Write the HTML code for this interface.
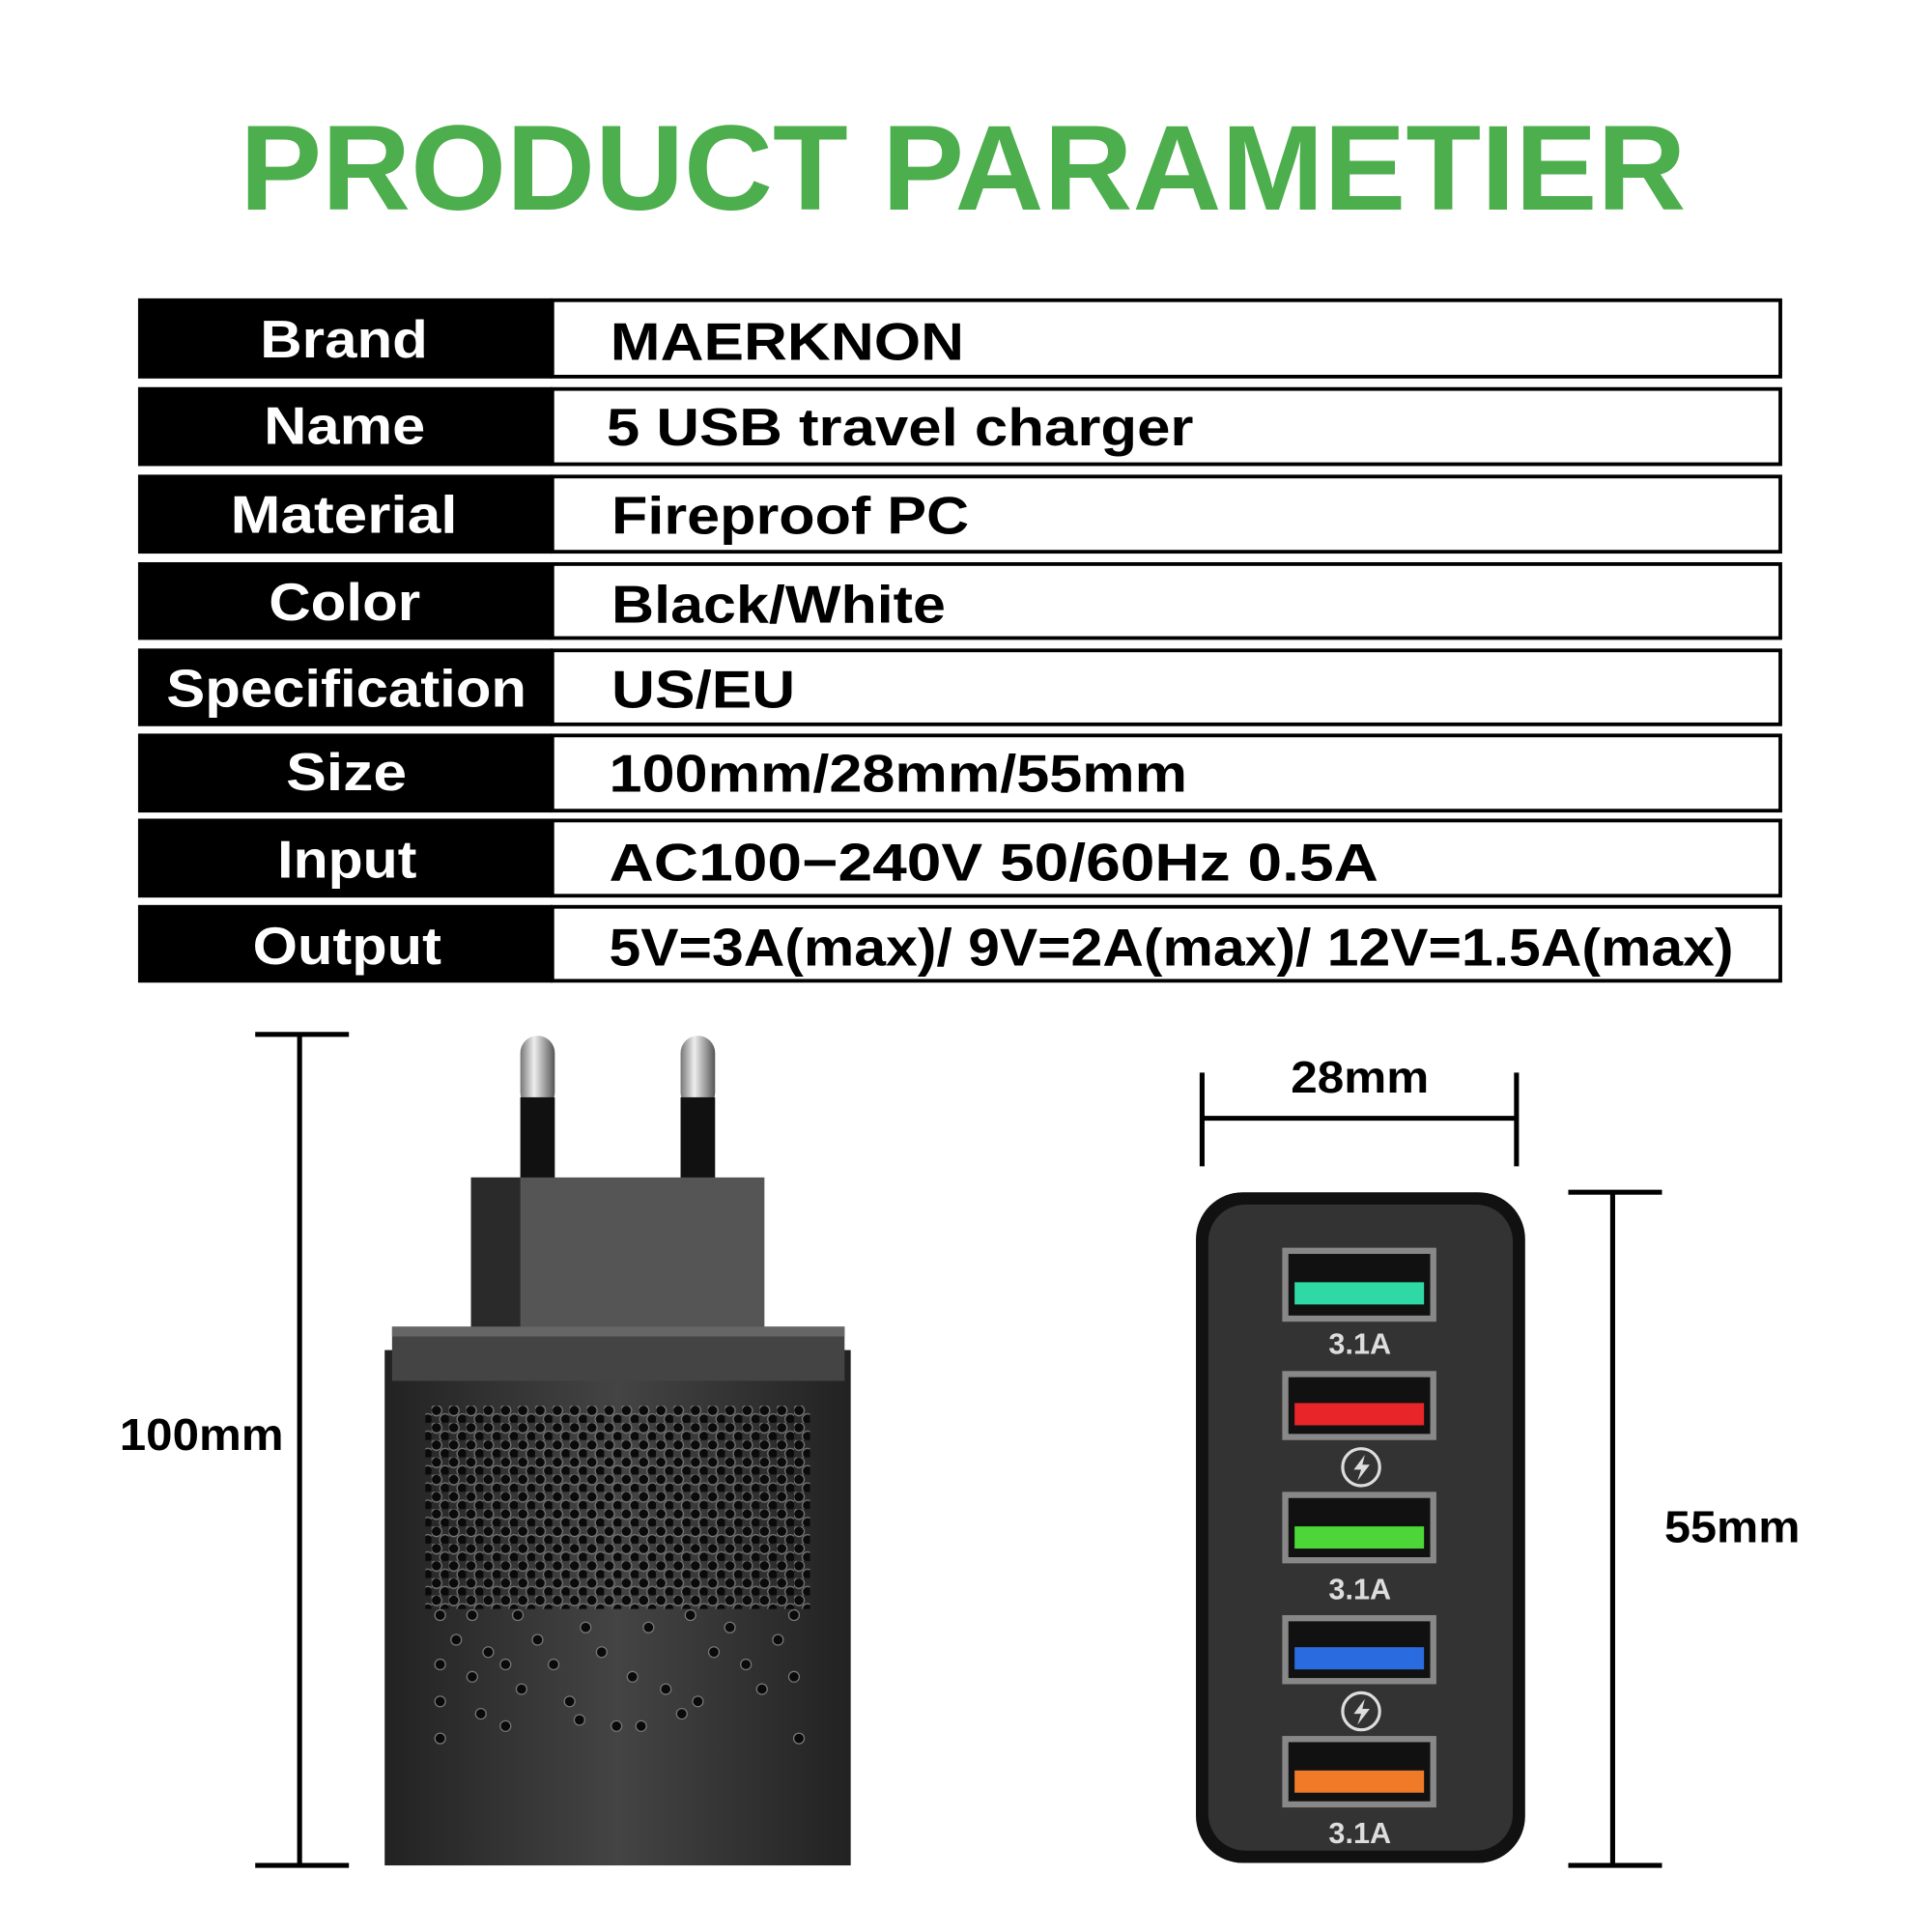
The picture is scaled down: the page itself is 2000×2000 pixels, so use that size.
<!DOCTYPE html>
<html><head><meta charset="utf-8"><style>
html,body{margin:0;padding:0;background:#fff;}
svg{display:block;}
text{font-family:"Liberation Sans",Arial,sans-serif;font-weight:bold;}
</style></head><body>
<svg width="2000" height="2000" viewBox="0 0 1567 1567" xmlns="http://www.w3.org/2000/svg">
<defs>
<pattern id="dots" x="350" y="1140" width="14" height="14" patternUnits="userSpaceOnUse">
<circle cx="4" cy="4" r="4.3" fill="#0a0a0a" stroke="#777" stroke-width="1"/>
<circle cx="11" cy="11" r="4.3" fill="#0a0a0a" stroke="#777" stroke-width="1"/>
</pattern>
<linearGradient id="prong" x1="0" x2="1"><stop offset="0" stop-color="#777"/><stop offset="0.4" stop-color="#eee"/><stop offset="1" stop-color="#555"/></linearGradient>
<linearGradient id="body" x1="0" x2="1"><stop offset="0" stop-color="#222"/><stop offset="0.5" stop-color="#444"/><stop offset="1" stop-color="#222"/></linearGradient>
</defs>
<rect width="1567" height="1567" fill="#fff"/>
<text x="781" y="170" font-size="98" fill="#4cae4c" text-anchor="middle" textLength="1173" lengthAdjust="spacingAndGlyphs">PRODUCT PARAMETIER</text>

<g font-size="43" lengthAdjust="spacingAndGlyphs">
<rect x="112" y="242" width="336" height="65" fill="#000"/><rect x="448" y="243.5" width="996" height="62" fill="#fff" stroke="#000" stroke-width="3"/>
<text x="211" y="290" fill="#fff" textLength="136" lengthAdjust="spacingAndGlyphs">Brand</text><text x="495" y="292" fill="#000" textLength="287" lengthAdjust="spacingAndGlyphs">MAERKNON</text>

<rect x="112" y="314" width="336" height="64" fill="#000"/><rect x="448" y="315.5" width="996" height="61" fill="#fff" stroke="#000" stroke-width="3"/>
<text x="214" y="360" fill="#fff" textLength="131" lengthAdjust="spacingAndGlyphs">Name</text><text x="492" y="361" fill="#000" textLength="476" lengthAdjust="spacingAndGlyphs">5 USB travel charger</text>

<rect x="112" y="385" width="336" height="64" fill="#000"/><rect x="448" y="386.5" width="996" height="61" fill="#fff" stroke="#000" stroke-width="3"/>
<text x="187" y="432" fill="#fff" textLength="184" lengthAdjust="spacingAndGlyphs">Material</text><text x="496" y="433" fill="#000" textLength="290" lengthAdjust="spacingAndGlyphs">Fireproof PC</text>

<rect x="112" y="456" width="336" height="63" fill="#000"/><rect x="448" y="457.5" width="996" height="60" fill="#fff" stroke="#000" stroke-width="3"/>
<text x="218" y="503" fill="#fff" textLength="123" lengthAdjust="spacingAndGlyphs">Color</text><text x="496" y="505" fill="#000" textLength="271" lengthAdjust="spacingAndGlyphs">Black/White</text>

<rect x="112" y="526" width="336" height="63" fill="#000"/><rect x="448" y="527.5" width="996" height="60" fill="#fff" stroke="#000" stroke-width="3"/>
<text x="135" y="573" fill="#fff" textLength="292" lengthAdjust="spacingAndGlyphs">Specification</text><text x="496" y="574" fill="#000" textLength="149" lengthAdjust="spacingAndGlyphs">US/EU</text>

<rect x="112" y="595" width="336" height="64" fill="#000"/><rect x="448" y="596.5" width="996" height="61" fill="#fff" stroke="#000" stroke-width="3"/>
<text x="232" y="641" fill="#fff" textLength="98" lengthAdjust="spacingAndGlyphs">Size</text><text x="494" y="642" fill="#000" textLength="469" lengthAdjust="spacingAndGlyphs">100mm/28mm/55mm</text>

<rect x="112" y="664" width="336" height="64" fill="#000"/><rect x="448" y="665.5" width="996" height="61" fill="#fff" stroke="#000" stroke-width="3"/>
<text x="225" y="712" fill="#fff" textLength="113" lengthAdjust="spacingAndGlyphs">Input</text><text x="494" y="714" fill="#000" textLength="624" lengthAdjust="spacingAndGlyphs">AC100−240V 50/60Hz 0.5A</text>

<rect x="112" y="734" width="336" height="63" fill="#000"/><rect x="448" y="735.5" width="996" height="60" fill="#fff" stroke="#000" stroke-width="3"/>
<text x="205" y="782" fill="#fff" textLength="153" lengthAdjust="spacingAndGlyphs">Output</text><text x="494" y="783" fill="#000" textLength="912" lengthAdjust="spacingAndGlyphs">5V=3A(max)/ 9V=2A(max)/ 12V=1.5A(max)</text>
</g>

<g stroke="#000" stroke-width="4">
<line x1="243" y1="839" x2="243" y2="1513"/><line x1="207" y1="839" x2="283" y2="839"/><line x1="207" y1="1513" x2="283" y2="1513"/>
</g>
<text x="97" y="1176" font-size="36" fill="#000" textLength="133" lengthAdjust="spacingAndGlyphs">100mm</text>

<rect x="422" y="840" width="28" height="60" rx="14" fill="url(#prong)"/>
<rect x="422" y="890" width="28" height="66" fill="#111"/>
<rect x="552" y="840" width="28" height="60" rx="14" fill="url(#prong)"/>
<rect x="552" y="890" width="28" height="66" fill="#111"/>
<rect x="382" y="955" width="238" height="123" fill="#555"/>
<rect x="382" y="955" width="40" height="123" fill="#2a2a2a"/>
<rect x="312" y="1095" width="378" height="418" fill="url(#body)"/>
<rect x="318" y="1076" width="367" height="44" fill="#444"/>
<rect x="318" y="1076" width="367" height="8" fill="#666"/>
<rect x="345" y="1140" width="312" height="165" fill="url(#dots)"/>
<g fill="#0a0a0a" stroke="#777" stroke-width="1">
<circle cx="357" cy="1310" r="4.3"/><circle cx="370" cy="1330" r="4.3"/><circle cx="357" cy="1350" r="4.3"/><circle cx="383" cy="1360" r="4.3"/><circle cx="357" cy="1380" r="4.3"/><circle cx="357" cy="1410" r="4.3"/><circle cx="410" cy="1350" r="4.3"/><circle cx="423" cy="1370" r="4.3"/><circle cx="410" cy="1400" r="4.3"/><circle cx="436" cy="1330" r="4.3"/><circle cx="449" cy="1350" r="4.3"/><circle cx="462" cy="1380" r="4.3"/><circle cx="475" cy="1320" r="4.3"/><circle cx="488" cy="1340" r="4.3"/><circle cx="500" cy="1400" r="4.3"/><circle cx="513" cy="1360" r="4.3"/><circle cx="526" cy="1320" r="4.3"/><circle cx="540" cy="1370" r="4.3"/><circle cx="553" cy="1390" r="4.3"/><circle cx="566" cy="1380" r="4.3"/><circle cx="579" cy="1340" r="4.3"/><circle cx="592" cy="1320" r="4.3"/><circle cx="605" cy="1350" r="4.3"/><circle cx="618" cy="1370" r="4.3"/><circle cx="631" cy="1330" r="4.3"/><circle cx="644" cy="1310" r="4.3"/><circle cx="644" cy="1360" r="4.3"/><circle cx="648" cy="1410" r="4.3"/><circle cx="383" cy="1310" r="4.3"/><circle cx="420" cy="1310" r="4.3"/><circle cx="560" cy="1310" r="4.3"/><circle cx="396" cy="1340" r="4.3"/><circle cx="470" cy="1395" r="4.3"/><circle cx="520" cy="1400" r="4.3"/><circle cx="390" cy="1390" r="4.3"/>
</g>

<g stroke="#000" stroke-width="4">
<line x1="975" y1="907" x2="1230" y2="907"/><line x1="975" y1="870" x2="975" y2="946"/><line x1="1230" y1="870" x2="1230" y2="946"/>
<line x1="1308" y1="967" x2="1308" y2="1513"/><line x1="1272" y1="967" x2="1348" y2="967"/><line x1="1272" y1="1513" x2="1348" y2="1513"/>
</g>
<text x="1103" y="886" font-size="36" fill="#000" text-anchor="middle" textLength="112" lengthAdjust="spacingAndGlyphs">28mm</text>
<text x="1350" y="1251" font-size="36" fill="#000" textLength="110" lengthAdjust="spacingAndGlyphs">55mm</text>

<rect x="970" y="967" width="267" height="544" rx="38" fill="#111"/>
<rect x="980" y="977" width="247" height="524" rx="30" fill="#333"/>
<g>
<rect x="1040" y="1012" width="125" height="60" fill="#888"/><rect x="1045" y="1017" width="115" height="50" fill="#111"/><rect x="1050" y="1040" width="105" height="18" fill="#2fd9a6"/>
<rect x="1040" y="1112" width="125" height="56" fill="#888"/><rect x="1045" y="1117" width="115" height="46" fill="#111"/><rect x="1050" y="1138" width="105" height="18" fill="#e8262a"/>
<rect x="1040" y="1210" width="125" height="58" fill="#888"/><rect x="1045" y="1215" width="115" height="48" fill="#111"/><rect x="1050" y="1238" width="105" height="18" fill="#4cd638"/>
<rect x="1040" y="1310" width="125" height="56" fill="#888"/><rect x="1045" y="1315" width="115" height="46" fill="#111"/><rect x="1050" y="1336" width="105" height="18" fill="#2a6be0"/>
<rect x="1040" y="1408" width="125" height="58" fill="#888"/><rect x="1045" y="1413" width="115" height="48" fill="#111"/><rect x="1050" y="1436" width="105" height="18" fill="#f07a28"/>
</g>
<g font-size="24" fill="#ddd" text-anchor="middle">
<text x="1103" y="1098">3.1A</text><text x="1103" y="1297">3.1A</text><text x="1103" y="1495">3.1A</text>
</g>
<g fill="none" stroke="#ddd" stroke-width="2.5">
<circle cx="1104" cy="1190" r="15"/><circle cx="1104" cy="1388" r="15"/>
</g>
<g fill="#ddd">
<path d="M1107 1180 L1098 1192 L1104 1192 L1101 1201 L1111 1188 L1105 1188 Z"/>
<path d="M1107 1378 L1098 1390 L1104 1390 L1101 1399 L1111 1386 L1105 1386 Z"/>
</g>
</svg>
</body></html>
